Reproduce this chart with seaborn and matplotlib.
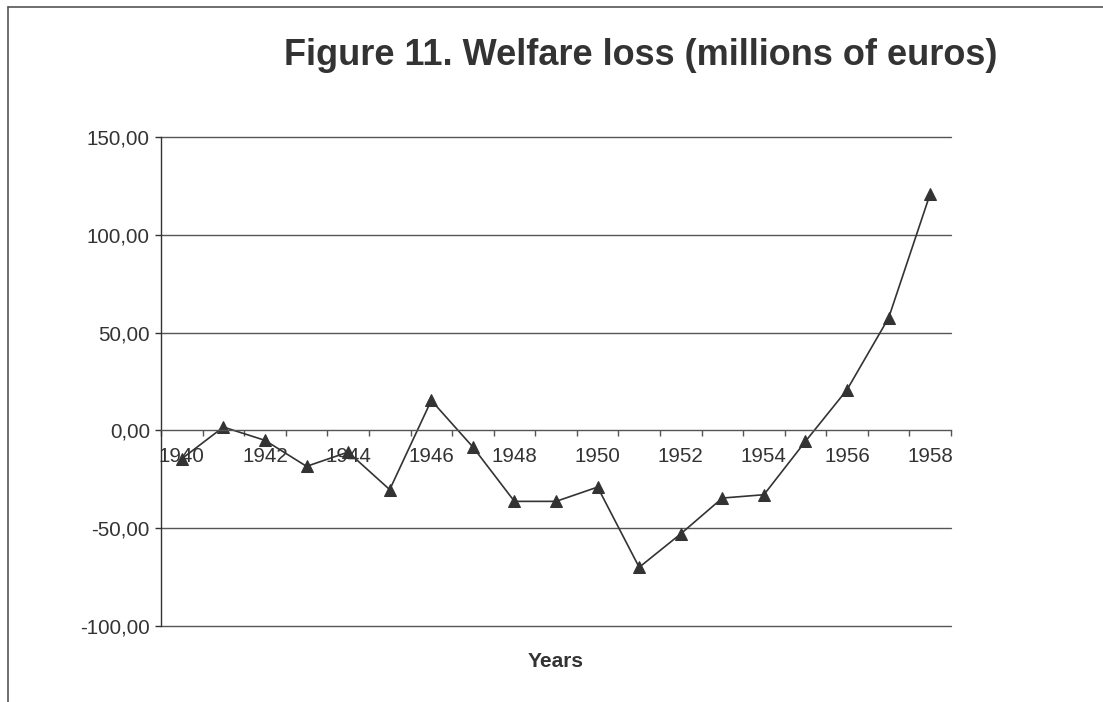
import matplotlib
matplotlib.use("Agg")
import matplotlib.pyplot as plt
import seaborn as sns
import pandas as pd
from matplotlib.lines import Line2D
from matplotlib.ticker import FixedLocator, FuncFormatter, NullFormatter

# Daten
years = [1940, 1941, 1942, 1943, 1944, 1945, 1946, 1947, 1948, 1949,
         1950, 1951, 1952, 1953, 1954, 1955, 1956, 1957, 1958]
welfare_loss = [-14.5, 1.7, -5.1, -18.4, -11.1, -30.3, 15.3, -8.5, -36.3, -36.3,
                -29.0, -70.0, -52.9, -34.6, -32.9, -5.6, 20.8, 57.5, 121.0]
label_years = [1940, 1942, 1944, 1946, 1948, 1950, 1952, 1954, 1956, 1958]
y_ticks = [-100, -50, 0, 50, 100, 150]

df = pd.DataFrame({"year": years, "loss": welfare_loss})

sns.set_style("white")
plt.rcParams["font.family"] = ["Liberation Sans", "DejaVu Sans"]

dark = "#333333"
fig = plt.figure(figsize=(11.03, 7.02), dpi=100)
ax = fig.add_axes([0.146, 0.1083, 0.7162, 0.6966])

sns.lineplot(data=df, x="year", y="loss", ax=ax, color=dark, linewidth=1.2,
             marker="^", markersize=9, markeredgecolor=dark, markerfacecolor=dark)

ax.set_xlim(years[0] - 0.5, years[-1] + 0.5)
ax.set_ylim(-100, 150)

# Gitterlinien
ax.set_yticks(y_ticks)
ax.yaxis.set_major_formatter(FuncFormatter(lambda v, p: f"{v:.2f}".replace(".", ",")))
for v in y_ticks:
    if v != 0:
        ax.axhline(v, color="#555555", linewidth=1.0, zorder=0, clip_on=False)

# x-Achse bei Null
ax.spines["bottom"].set_position(("data", 0))
for s in ["top", "right"]:
    ax.spines[s].set_visible(False)
ax.spines["left"].set_color(dark)
ax.spines["bottom"].set_color("#555555")
ax.spines["left"].set_linewidth(1.0)
ax.spines["bottom"].set_linewidth(1.0)

bounds = [y - 0.5 for y in years] + [years[-1] + 0.5]
ax.xaxis.set_major_locator(FixedLocator(bounds))
ax.xaxis.set_major_formatter(NullFormatter())
ax.xaxis.set_minor_locator(FixedLocator(label_years))
ax.xaxis.set_minor_formatter(FuncFormatter(lambda v, p: str(int(round(v)))))
ax.tick_params(axis="x", which="major", direction="out", length=4, width=1, color="#555555")
ax.tick_params(axis="x", which="minor", length=0, pad=12, labelsize=14.8, labelcolor=dark)
ax.tick_params(axis="y", direction="out", length=4, width=1, color=dark, pad=4,
               labelsize=14.8, labelcolor=dark)
ax.tick_params(bottom=True, left=True, which="both")
ax.set_xlabel("")
ax.set_ylabel("")

fig.text(0.581, 0.921, "Figure 11. Welfare loss (millions of euros)", ha="center", va="center",
         fontsize=26, fontweight="bold", color=dark)
fig.text(0.504, 0.0584, "Years", ha="center", va="center", fontsize=15,
         fontweight="bold", color=dark)

# Rahmen links und oben
fig.add_artist(Line2D([8 / 1103, 8 / 1103], [0, 1 - 7 / 702], color="#555555", linewidth=1.2))
fig.add_artist(Line2D([8 / 1103, 1], [1 - 7 / 702, 1 - 7 / 702], color="#555555", linewidth=1.2))

fig.savefig("out.png", dpi=100)
